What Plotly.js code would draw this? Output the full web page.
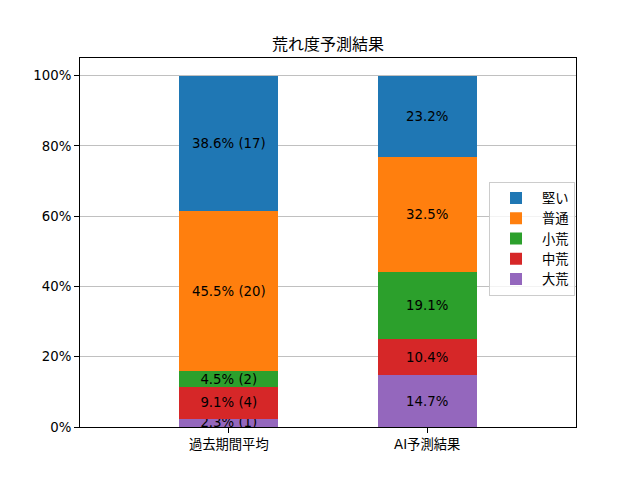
<!DOCTYPE html>
<html>
<head>
<meta charset="utf-8">
<script src="https://cdn.plot.ly/plotly-3.0.1.min.js"></script>
<style>body{margin:0;padding:0;background:#fff}#chart{width:640px;height:480px}</style>
</head>
<body>
<div id="chart"></div>
<script>
const categories = ["過去期間平均", "AI予測結果"]
// stack order, bottom to top
const levels = ["大荒", "中荒", "小荒", "普通", "堅い"]
const colors = ["#9467bd", "#d62728", "#2ca02c", "#ff7f0e", "#1f77b4"]
const pastPct = [2.3, 9.1, 4.5, 45.5, 38.6]
const pastCount = [1, 4, 2, 20, 17]
const aiPct = [14.7, 10.4, 19.1, 32.5, 23.2]
const yTicks = [0, 20, 40, 60, 80, 100]

const font = "DejaVu Sans, Noto Sans CJK JP, sans-serif"

const traces = levels.map((name, i) => ({
    type: 'bar',
    name: name,
    x: categories,
    y: [pastPct[i], aiPct[i]],
    text: [pastPct[i].toFixed(1) + "% (" + pastCount[i] + ")", aiPct[i].toFixed(1) + "%"],
    textposition: 'inside',
    insidetextanchor: 'middle',
    textangle: 0,
    constraintext: 'none',
    textfont: {color: '#000', size: 13.3, family: font},
    marker: {color: colors[i], line: {width: 0}},
    width: 0.5,
    hoverinfo: 'skip',
}))

const layout = {
    width: 640,
    height: 480,
    margin: {l: 80, r: 64, t: 57.6, b: 52.8},
    barmode: 'stack',
    paper_bgcolor: '#fff',
    plot_bgcolor: '#fff',
    font: {family: font, size: 13.3, color: '#000'},
    title: {text: "荒れ度予測結果", font: {size: 16, family: font}, x: 0.5, xref: 'paper', y: 0.908, yanchor: 'middle'},
    xaxis: {
        range: [-0.75, 1.75],
        showline: true, mirror: true, linecolor: '#000', linewidth: 1,
        ticks: 'outside', ticklen: 5, tickcolor: '#000',
        showgrid: false, zeroline: false,
    },
    yaxis: {
        range: [0, 105],
        tickvals: yTicks,
        ticktext: yTicks.map(v => v + "%"),
        showline: true, mirror: true, linecolor: '#000', linewidth: 1,
        ticks: 'outside', ticklen: 5, tickcolor: '#000',
        showgrid: true, gridcolor: '#b0b0b0', gridwidth: 0.8,
        zeroline: false,
    },
    legend: {
        x: 0.998, xanchor: 'right', y: 0.51, yanchor: 'middle',
        traceorder: 'reversed',
        itemwidth: 42,
        bgcolor: 'rgba(255,255,255,0.8)', bordercolor: '#cccccc', borderwidth: 1,
        font: {size: 13.3, family: font},
    },
    showlegend: true,
}

Plotly.newPlot('chart', traces, layout, {staticPlot: true})
</script>
</body>
</html>
